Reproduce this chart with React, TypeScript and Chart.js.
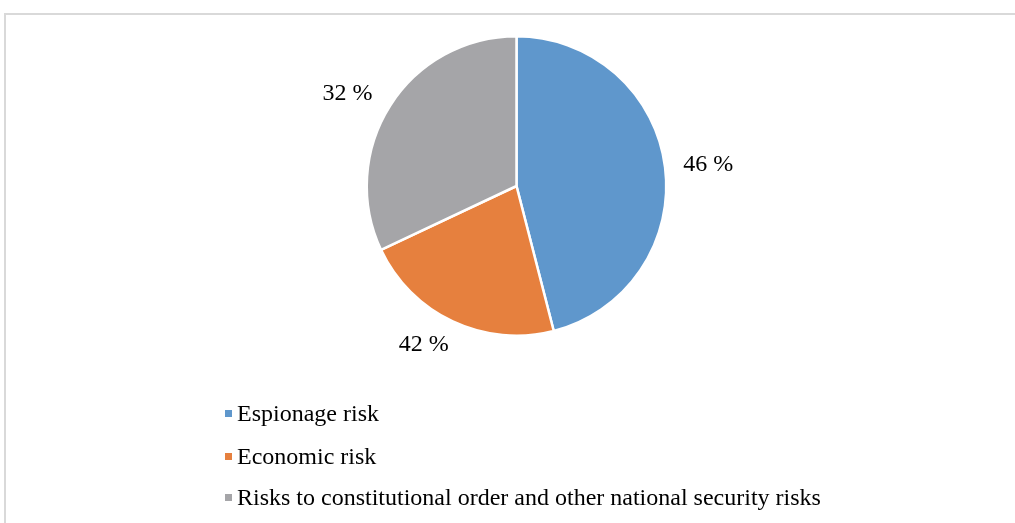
import React, { useEffect, useRef } from "react";
import { Chart, registerables } from "chart.js";

Chart.register(...registerables);

const categories = [
  "Espionage risk",
  "Economic risk",
  "Risks to constitutional order and other national security risks",
];
const values = [46, 22, 32];
const valueLabels = ["46 %", "42 %", "32 %"];
const colors = ["#5F97CC", "#E6803E", "#A5A5A8"];

const FONT = "'Liberation Serif', 'Times New Roman', serif";
// label placement style: distance factor and angular nudge (degrees) per slice
const LABEL_DIST = [1.29, 1.22, 1.29];
const LABEL_NUDGE = [0.5, 5.3, -3.4];

const overlay = {
  id: "overlay",
  afterDraw(chart: any) {
    const ctx = chart.ctx;
    const meta = chart.getDatasetMeta(0);
    ctx.save();
    ctx.fillStyle = "#000";
    ctx.font = `24px ${FONT}`;
    ctx.textAlign = "center";
    ctx.textBaseline = "middle";
    meta.data.forEach((arc: any, i: number) => {
      const p = arc.getProps(["x", "y", "startAngle", "endAngle", "outerRadius"], true);
      const mid = (p.startAngle + p.endAngle) / 2 + (LABEL_NUDGE[i] * Math.PI) / 180;
      const r = p.outerRadius * LABEL_DIST[i];
      ctx.fillText(valueLabels[i], p.x + Math.cos(mid) * r, p.y + Math.sin(mid) * r + 1);
    });
    // legend
    ctx.textAlign = "left";
    ctx.textBaseline = "alphabetic";
    const rowY = [421, 464, 505];
    categories.forEach((c, i) => {
      ctx.fillStyle = colors[i];
      ctx.fillRect(225, rowY[i] - 11, 7, 7);
      ctx.fillStyle = "#000";
      ctx.fillText(c, 237, rowY[i]);
    });
    ctx.restore();
  },
};

export default function App() {
  const ref = useRef<HTMLCanvasElement>(null);
  useEffect(() => {
    const chart = new Chart(ref.current!, {
      type: "pie",
      data: {
        labels: categories,
        datasets: [
          {
            data: values,
            backgroundColor: colors,
            borderColor: "#ffffff",
            borderWidth: 2.5,
          },
        ],
      },
      options: {
        responsive: false,
        animation: false,
        devicePixelRatio: 1,
        layout: { padding: { left: 365, right: 347, top: 35, bottom: 186 } },
        plugins: {
          legend: { display: false },
          tooltip: { enabled: false },
        },
      },
      plugins: [overlay],
    });
    return () => chart.destroy();
  }, []);
  return (
    <div style={{ position: "absolute", left: 0, top: 0, width: 1015, height: 523, background: "#fff", overflow: "hidden" }}>
      <div
        style={{
          position: "absolute",
          left: 4,
          top: 13,
          width: 1020,
          height: 520,
          borderTop: "2px solid #d9d9d9",
          borderLeft: "2px solid #d9d9d9",
          boxSizing: "border-box",
        }}
      />
      <canvas ref={ref} width={1015} height={523} style={{ position: "absolute", left: 0, top: 0 }} />
    </div>
  );
}
